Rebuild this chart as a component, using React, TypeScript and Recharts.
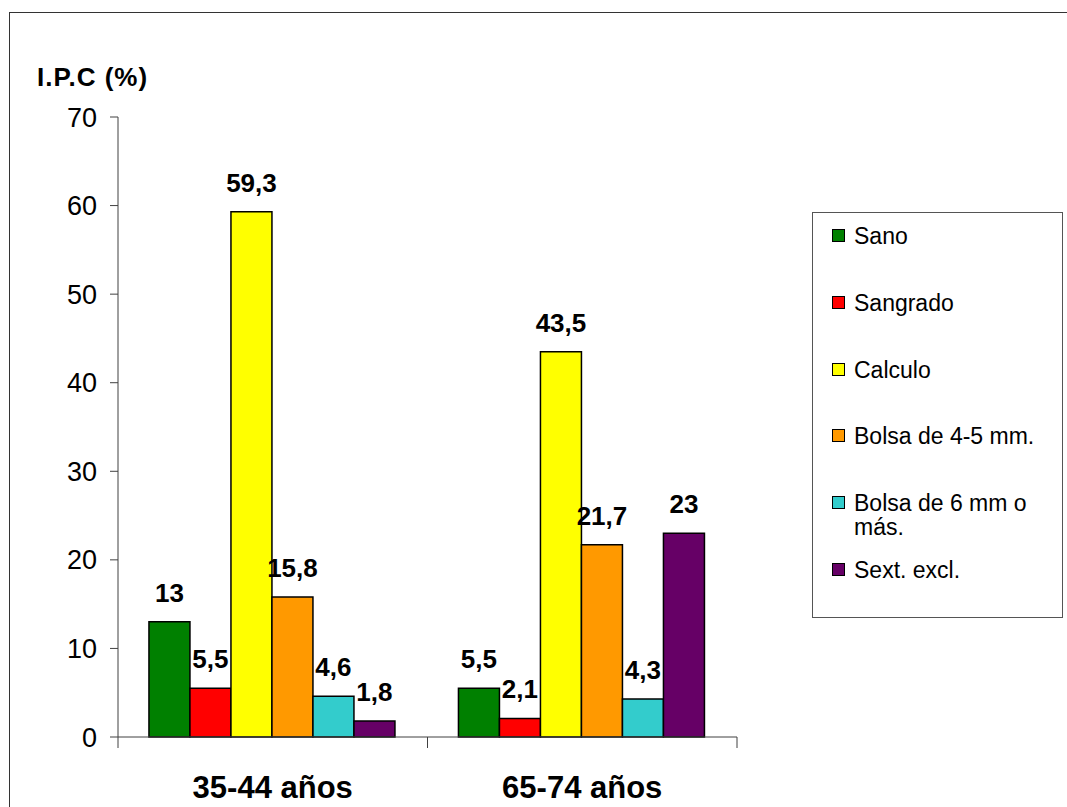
import { BarChart, Bar, XAxis, YAxis, LabelList } from 'recharts';

const categories = ['35-44 años', '65-74 años'];
const seriesNames = ['Sano', 'Sangrado', 'Calculo', 'Bolsa de 4-5 mm.', 'Bolsa de 6 mm o más.', 'Sext. excl.'];
const seriesColors = ['#008000', '#FF0000', '#FFFF00', '#FF9900', '#33CCCC', '#660066'];
const sano = [13, 5.5];
const sangrado = [5.5, 2.1];
const calculo = [59.3, 43.5];
const bolsa45 = [15.8, 21.7];
const bolsa6 = [4.6, 4.3];
const sext = [1.8, 23];
const yTicks = [0, 10, 20, 30, 40, 50, 60, 70];

const seriesValues = [sano, sangrado, calculo, bolsa45, bolsa6, sext];
const keys = ['s0', 's1', 's2', 's3', 's4', 's5'];

const data = categories.map((name, i) => {
  const row: Record<string, string | number> = { name };
  seriesValues.forEach((vals, s) => {
    row[keys[s]] = vals[i];
  });
  return row;
});

const FONT = '"Liberation Sans", Arial, sans-serif';
const PAGE_W = 1067;
const PAGE_H = 807;
const MARGIN = { top: 117, right: 330, bottom: 8, left: 28 };
const Y_AXIS_W = 90;
const PLOT_W = PAGE_W - MARGIN.left - MARGIN.right - Y_AXIS_W;
const AXIS_COLOR = '#404040';

const fmt = (v: unknown) => String(v).replace('.', ',');

function CategoryTick(props: any) {
  const { x, y, payload, index } = props;
  const half = PLOT_W / categories.length / 2;
  const isLast = index === categories.length - 1;
  return (
    <g>
      <line x1={x - half} x2={x - half} y1={y} y2={y + 11} stroke={AXIS_COLOR} strokeWidth={1} />
      {isLast && <line x1={x + half} x2={x + half} y1={y} y2={y + 11} stroke={AXIS_COLOR} strokeWidth={1} />}
      <text x={x} y={y + 61} textAnchor="middle" fontSize={31} fontWeight="bold" fill="#000" fontFamily={FONT}>
        {payload.value}
      </text>
    </g>
  );
}

function LegendBox() {
  return (
    <div
      style={{
        position: 'absolute',
        left: 812,
        top: 212,
        width: 249,
        height: 404,
        border: '1.5px solid #555',
        background: '#fff',
        fontFamily: FONT,
        fontSize: 23,
        color: '#000',
      }}
    >
      {seriesNames.map((name, i) => (
        <div key={name} style={{ position: 'absolute', left: 0, top: 11 + i * 66.8, width: 249 }}>
          <span
            style={{
              position: 'absolute',
              left: 19,
              top: 5,
              width: 11,
              height: 11,
              background: seriesColors[i],
              border: '1.5px solid #000',
            }}
          />
          <div style={{ position: 'absolute', left: 41, top: 0, width: 200, lineHeight: '24px' }}>{name}</div>
        </div>
      ))}
    </div>
  );
}

export default function App() {
  return (
    <div
      style={{
        position: 'fixed',
        left: 0,
        top: 0,
        width: PAGE_W,
        height: PAGE_H,
        overflow: 'hidden',
        background: '#fff',
      }}
    >
      <div
        style={{
          position: 'absolute',
          left: 9,
          top: 12,
          width: 1200,
          height: 1000,
          border: '1.5px solid #333',
        }}
      />
      <div
        style={{
          position: 'absolute',
          left: 37,
          top: 64,
          fontFamily: FONT,
          fontSize: 26,
          lineHeight: '26px',
          fontWeight: 'bold',
          letterSpacing: 1,
          color: '#000',
        }}
      >
        I.P.C (%)
      </div>
      <div style={{ position: 'absolute', left: 0, top: 0 }}>
        <BarChart
          width={PAGE_W}
          height={PAGE_H}
          data={data}
          margin={MARGIN}
          barCategoryGap="10%"
          barGap={0}
          style={{ fontFamily: FONT }}
        >
          <XAxis
            dataKey="name"
            height={62}
            axisLine={{ stroke: AXIS_COLOR, strokeWidth: 1 }}
            tickLine={false}
            tickSize={0}
            tickMargin={0}
            interval={0}
            tick={<CategoryTick />}
          />
          <YAxis
            width={Y_AXIS_W}
            domain={[0, 70]}
            ticks={yTicks}
            interval={0}
            axisLine={{ stroke: AXIS_COLOR, strokeWidth: 1 }}
            tickLine={{ stroke: AXIS_COLOR, strokeWidth: 1 }}
            tickSize={8}
            tickMargin={13}
            tick={{ fontSize: 27, fill: '#000', fontFamily: FONT }}
          />
          {keys.map((k, i) => (
            <Bar
              key={k}
              dataKey={k}
              name={seriesNames[i]}
              fill={seriesColors[i]}
              stroke="#000"
              strokeWidth={1.5}
              isAnimationActive={false}
            >
              <LabelList
                dataKey={k}
                position="top"
                offset={20}
                formatter={fmt}
                fontSize={26}
                fontWeight="bold"
                fill="#000"
                fontFamily={FONT}
              />
            </Bar>
          ))}
        </BarChart>
      </div>
      <LegendBox />
    </div>
  );
}
